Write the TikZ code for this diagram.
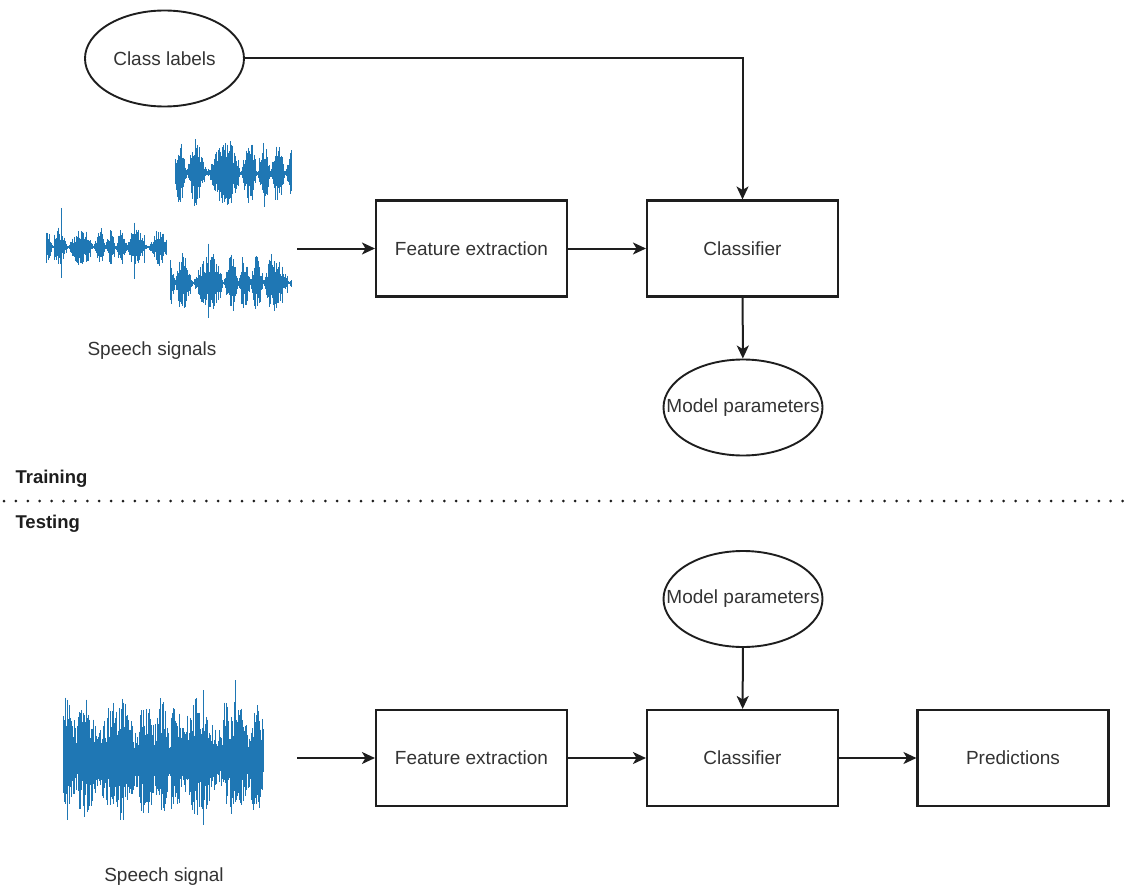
\documentclass[tikz,border=0pt]{standalone}
\usepackage{fontspec}
\setmainfont{Liberation Sans}
\usepackage{xcolor}
\usepackage{tikz}
\usetikzlibrary{arrows.meta,positioning,shapes.geometric}
\definecolor{wavecol}{RGB}{31,119,180}
\definecolor{ink}{RGB}{30,30,30}
\definecolor{txt}{RGB}{51,51,51}

% one speech waveform: x0, x1, centre y, amplitude, seed, syllable rate, spike factor, floor
\newcommand{\speechwave}[8]{%
  \pgfmathsetseed{#5}
  \pgfmathtruncatemacro\wn{(#2-#1)/0.8}
  \draw[wavecol, line width=1.2pt] (#1,#3) -- (#2,#3);
  \foreach \i in {0,...,\wn}{
    \pgfmathsetmacro\wx{#1+\i*0.8}
    \pgfmathsetmacro\wt{\i*0.8*#6+#5}
    \pgfmathsetmacro\we{#8+(1-#8)*pow(abs(sin(\wt+70*sin(0.43*\wt))),1.2)}
    \pgfmathsetmacro\ws{rnd>0.955 ? #7 : 1}
    \pgfmathsetmacro\wu{#4*max(\we,(\ws-1)/(#7))*\ws*(0.35+0.65*rnd)}
    \pgfmathsetmacro\wd{#4*max(\we,(\ws-1)/(#7))*\ws*(0.35+0.65*rnd)}
    \draw[wavecol, line width=0.9pt] (\wx,#3-\wu) -- (\wx,#3+\wd);
  }
}

\begin{document}
\begin{tikzpicture}[x=1pt, y=-1pt,
    every node/.style={font=\fontsize{19}{23}\selectfont, text=txt},
    box/.style={draw=ink, line width=2.1pt, minimum width=191pt, minimum height=96pt, inner sep=0pt},
    oval/.style={ellipse, draw=ink, line width=1.9pt, minimum width=159pt, minimum height=96pt, inner sep=0pt},
    arr/.style={draw=ink, line width=2pt, -{Stealth[length=13pt, width=12pt, inset=3.5pt]}},
    phase/.style={anchor=west, font=\bfseries\fontsize{18.5}{22}\selectfont, text=ink}]
  \useasboundingbox (0,0) rectangle (1138,888);
  % training
  \speechwave{175}{292}{173}{34}{17}{9}{1.3}{0.05}
  \speechwave{46}{166}{247}{20}{41}{12}{2.2}{0.05}
  \speechwave{170}{292}{283}{30}{73}{10}{1.45}{0.05}
  \node (sigs) at (152,351) {Speech signals};
  \coordinate (sig1) at (297,248.5);
  \node[oval] (cls) at (164.5,58.5) {\makebox[0pt]{Class labels}};
  \node[box] (fe1) at (471.5,248.5) {Feature extraction};
  \node[box] (clf1) at (742.5,248.5) {Classifier};
  \node[oval] (par1) at (743,407.5) {\makebox[0pt]{Model parameters}};
  \draw[arr] (sig1) -- (fe1);
  \draw[arr] (fe1) -- (clf1);
  \draw[arr] (cls.east) -- (cls.east -| clf1.north) -- (clf1.north);
  \draw[arr] (clf1) -- (par1);
  % split
  \node[phase] (train) at (12,479) {Training};
  \draw[ink, line width=3pt, line cap=round, dash pattern=on 0pt off 11.9pt] (4,501) -- (1134,501);
  \node[phase] (test) at (12,524) {Testing};
  % testing
  \speechwave{63}{263}{759}{62}{29}{8}{1.35}{0.45}
  \node (sig) at (164,877) {Speech signal};
  \coordinate (sig2) at (297,758);
  \node[oval] (par2) at (743,599) {\makebox[0pt]{Model parameters}};
  \node[box] (fe2) at (471.5,758) {Feature extraction};
  \node[box] (clf2) at (742.5,758) {Classifier};
  \node[box] (pred) at (1013,758) {Predictions};
  \draw[arr] (sig2) -- (fe2);
  \draw[arr] (fe2) -- (clf2);
  \draw[arr] (par2) -- (clf2);
  \draw[arr] (clf2) -- (pred);
\end{tikzpicture}
\end{document}
